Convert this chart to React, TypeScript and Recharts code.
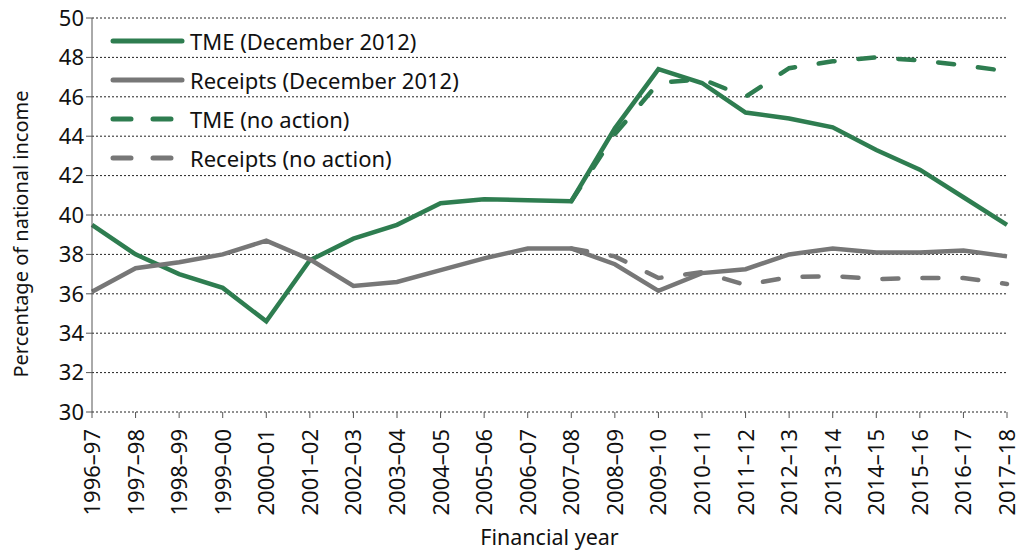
import React from "react";
import { LineChart, Line, XAxis, YAxis, CartesianGrid, Legend, Label } from "recharts";

// Public spending (TME) and receipts as a share of national income.

const years = [
  "1996–97", "1997–98", "1998–99", "1999–00", "2000–01", "2001–02", "2002–03",
  "2003–04", "2004–05", "2005–06", "2006–07", "2007–08", "2008–09", "2009–10",
  "2010–11", "2011–12", "2012–13", "2013–14", "2014–15", "2015–16", "2016–17",
  "2017–18",
];

const tmeDec2012 = [
  39.5, 38.0, 37.0, 36.3, 34.6, 37.7, 38.8, 39.5, 40.6, 40.8, 40.75, 40.7,
  44.4, 47.4, 46.7, 45.2, 44.9, 44.45, 43.3, 42.3, 40.9, 39.5,
];

const receiptsDec2012 = [
  36.1, 37.3, 37.6, 38.0, 38.7, 37.75, 36.4, 36.6, 37.2, 37.8, 38.3, 38.3,
  37.5, 36.15, 37.05, 37.25, 38.0, 38.3, 38.1, 38.1, 38.2, 37.9,
];

const tmeNoAction = [
  null, null, null, null, null, null, null, null, null, null, null, 40.7,
  44.1, 46.7, 46.9, 46.0, 47.45, 47.8, 48.0, 47.85, 47.6, 47.3,
];

const receiptsNoAction = [
  null, null, null, null, null, null, null, null, null, null, null, 38.3,
  37.9, 36.8, 37.1, 36.45, 36.85, 36.9, 36.75, 36.8, 36.8, 36.5,
];

const yTicks = [30, 32, 34, 36, 38, 40, 42, 44, 46, 48, 50];

const GREEN = "#2e7d50";
const GREY = "#777777";
const FONT = "'Noto Sans', sans-serif";

const data = years.map((year, i) => ({
  year,
  tme: tmeDec2012[i],
  receipts: receiptsDec2012[i],
  tmeNA: tmeNoAction[i],
  receiptsNA: receiptsNoAction[i],
}));

const legendItems = [
  { label: "TME (December 2012)", color: GREEN, dashed: false },
  { label: "Receipts (December 2012)", color: GREY, dashed: false },
  { label: "TME (no action)", color: GREEN, dashed: true },
  { label: "Receipts (no action)", color: GREY, dashed: true },
];

function LegendBox() {
  return (
    <div style={{ fontFamily: FONT, fontSize: 22, color: "#111", lineHeight: 1 }}>
      {legendItems.map((it) => (
        <div key={it.label} style={{ display: "flex", alignItems: "center", height: 39 }}>
          <svg width={80} height={12}>
            <line
              x1={3}
              y1={6}
              x2={72}
              y2={6}
              stroke={it.color}
              strokeWidth={5}
              strokeLinecap="round"
              strokeDasharray={it.dashed ? "18 22" : undefined}
            />
          </svg>
          <span style={{ whiteSpace: "nowrap" }}>{it.label}</span>
        </div>
      ))}
    </div>
  );
}

function YearTick(props: any) {
  const { x, y, payload } = props;
  return (
    <text
      x={0}
      y={0}
      transform={`translate(${x + 8},${y + 9}) rotate(-90)`}
      textAnchor="end"
      fontFamily={FONT}
      fontSize={22}
      fill="#111"
    >
      {payload.value}
    </text>
  );
}

function YTitle(props: any) {
  const { viewBox } = props;
  const cx = 12;
  const cy = viewBox.y + viewBox.height / 2 + 19;
  return (
    <text
      x={cx}
      y={cy}
      transform={`rotate(-90, ${cx}, ${cy})`}
      textAnchor="middle"
      dominantBaseline="central"
      fontFamily={FONT}
      fontSize={20}
      fill="#111"
    >
      Percentage of national income
    </text>
  );
}

export default function App() {
  // pulled up over the body margin so the top tick label has room
  return (
    <div style={{ marginTop: -8 }}>
      <LineChart
        width={1012}
        height={552}
        data={data}
        margin={{ top: 18, right: 13, bottom: 0, left: 4 }}
      >
        <CartesianGrid vertical={false} stroke="#222" strokeDasharray="2 2" strokeWidth={1} />
        <XAxis
          dataKey="year"
          interval={0}
          tick={<YearTick />}
          tickLine={{ stroke: "#555" }}
          tickSize={6}
          axisLine={false}
          height={140}
        >
          <Label
            value="Financial year"
            position="insideBottom"
            offset={7}
            style={{ fontFamily: FONT, fontSize: 21.5, fill: "#111" }}
          />
        </XAxis>
        <YAxis
          domain={[30, 50]}
          ticks={yTicks}
          interval={0}
          width={80}
          tick={{ fontFamily: FONT, fontSize: 22, fill: "#111" }}
          tickLine={{ stroke: "#555" }}
          tickSize={6}
          axisLine={{ stroke: "#555" }}
        >
          <Label content={<YTitle />} />
        </YAxis>
        <Legend
          content={() => <LegendBox />}
          layout="vertical"
          align="center"
          verticalAlign="middle"
          wrapperStyle={{ top: 21, left: 102, width: "auto" }}
        />
        <Line
          dataKey="tmeNA"
          stroke={GREEN}
          strokeWidth={4.5}
          strokeDasharray="16 24"
          strokeLinecap="round"
          dot={false}
          isAnimationActive={false}
        />
        <Line
          dataKey="receiptsNA"
          stroke={GREY}
          strokeWidth={4.5}
          strokeDasharray="16 24"
          strokeLinecap="round"
          dot={false}
          isAnimationActive={false}
        />
        <Line
          dataKey="tme"
          stroke={GREEN}
          strokeWidth={4.5}
          dot={false}
          isAnimationActive={false}
        />
        <Line
          dataKey="receipts"
          stroke={GREY}
          strokeWidth={4.5}
          dot={false}
          isAnimationActive={false}
        />
      </LineChart>
    </div>
  );
}
